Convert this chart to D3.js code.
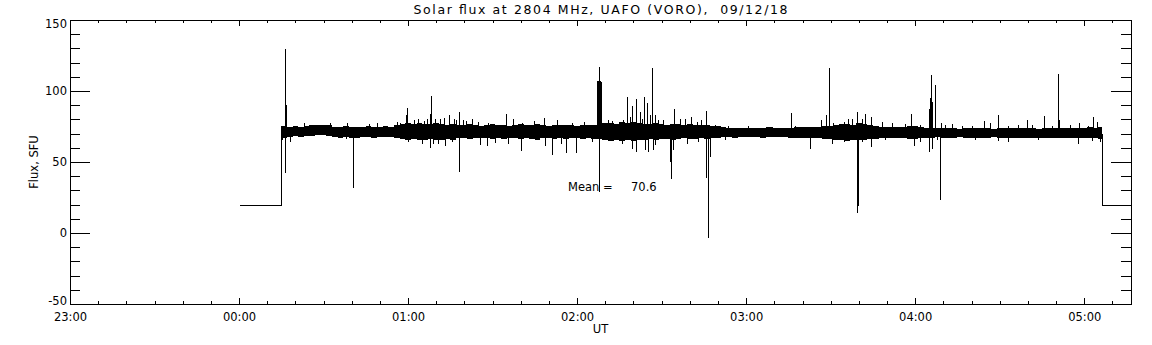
<!DOCTYPE html>
<html><head><meta charset="utf-8">
<script src="https://cdn.jsdelivr.net/npm/d3@7"></script>
<style>
body{margin:0;background:#fff}
svg text{font-family:"DejaVu Sans",sans-serif;fill:#000}
</style>
</head><body>
<svg id="c" width="1152" height="345"></svg>
<script>
// ---------- data (times in minutes after 00:00 UT) ----------
const titleText = "Solar flux at 2804 MHz, UAFO (VORO),  09/12/18";
const xTickMinutes = [-60, 0, 60, 120, 180, 240, 300];
const xTickLabels = ["23:00", "00:00", "01:00", "02:00", "03:00", "04:00", "05:00"];
const yTickValues = [-50, 0, 50, 100, 150];
const yTickLabels = ["-50", "0", "50", "100", "150"];
const xDomain = [-60, 316.6];
const yDomain = [-50, 150];

// receiver off (calibration level) before and after the observation
const offTime = [0, 15.0];
const offValue = [20, 20];
const tailTime = [306.4, 316.6];
const tailValue = [20, 20];

// noise band envelope, one sample every 2 minutes from 00:15
const bandStart = 15, bandStep = 2, bandEnd = 306.4;
const bandHi = [
  75.2, 74.8, 75.4, 75.0, 75.6, 76.0, 76.4, 76.2, 75.8, 75.0, 74.6, 75.2, 74.8,
  75.0, 74.6, 75.2, 75.0, 74.8, 75.4, 75.0, 76.2, 76.8, 77.2, 76.6, 77.4, 77.0, 76.8, 77.2,
  76.8, 76.2, 77.0, 76.4, 75.8, 76.6, 76.0, 75.6, 76.4, 76.8, 75.8, 76.2, 75.6, 76.0, 76.6,
  75.8, 76.2, 76.8, 76.0, 75.6, 76.2, 75.8, 76.4, 76.0, 75.6, 76.2, 75.8, 76.4, 76.6,
  77.4, 77.8, 77.0, 78.0, 77.6, 78.2, 77.4, 77.0, 76.6, 77.2, 76.8, 76.4, 77.0, 76.6, 76.2,
  76.8, 76.4, 76.0, 76.4, 75.6, 75.2,
  74.6, 74.2, 74.0, 73.8, 74.2, 73.6, 74.0, 73.8, 74.4, 74.0, 73.6, 74.2, 74.0, 74.4, 74.8,
  75.0, 74.6, 74.8, 75.2, 75.6, 76.2, 76.6, 77.0, 76.4, 77.2, 76.8, 76.2, 75.6, 75.0, 74.6,
  75.0, 74.4, 74.8,
  75.2, 75.6, 74.8, 74.2, 74.0, 73.6, 73.8, 74.2, 73.6, 73.4, 73.8, 74.0, 73.6, 74.2, 73.8,
  73.4, 73.6, 74.0, 73.8, 74.2, 73.6, 73.8, 74.0, 73.4, 73.8, 74.2, 73.6, 73.8, 74.0, 73.6,
  74.2, 73.8, 74.4, 74.0, 74.6
];
const bandLo = [
  67.0, 67.8, 68.0, 67.6, 68.2, 68.6, 69.0, 68.8, 68.4, 67.8, 67.2, 67.6, 67.0,
  66.8, 67.4, 67.6, 67.2, 67.6, 67.4, 67.8, 66.6, 66.0, 65.6, 66.2, 65.4, 65.8, 66.0, 65.6,
  65.6, 66.2, 65.8, 66.6, 67.0, 66.4, 66.8, 67.2, 66.6, 66.2, 66.8, 66.4, 67.0, 66.6, 66.0,
  66.8, 66.4, 65.8, 66.6, 67.0, 66.4, 66.8, 66.2, 66.6, 67.0, 66.4, 66.8, 66.2, 66.0,
  65.4, 65.0, 65.8, 64.8, 65.2, 64.6, 65.4, 65.8, 66.0, 65.6, 66.2, 66.4, 65.8, 66.2, 66.6,
  66.0, 66.4, 66.8, 66.4, 67.0, 67.2,
  67.4, 67.6, 67.2, 67.8, 67.4, 67.8, 67.6, 67.2, 67.6, 67.8, 67.4, 67.6, 67.2, 67.0, 66.8,
  66.8, 67.0, 66.6, 66.4, 66.2, 65.8, 65.4, 65.0, 65.6, 65.2, 65.6, 66.0, 66.4, 66.8, 67.0,
  66.6, 67.0, 66.8,
  66.4, 66.0, 66.8, 67.0, 67.2, 67.4, 67.0, 66.8, 67.2, 67.4, 67.0, 66.8, 67.2, 66.8, 67.0,
  67.4, 67.2, 66.8, 67.0, 66.6, 67.0, 67.2, 66.8, 67.2, 67.0, 66.6, 67.0, 67.2, 66.8, 67.0,
  66.6, 67.0, 66.8, 66.6, 66.4
];

// individual excursions out of the band (time in minutes, flux in SFU)
const spikeTime = [
  16.42, 16.77, 59.72, 59.25, 68.23, 67.88, 74.62, 78.17, 94.75, 108.34,
  126.9, 127.3, 127.6, 127.86, 128.2, 128.5,
  137.80, 139.57, 140.78, 142.20, 143.83, 144.90, 146.67, 147.63, 154.48, 165.63,
  196.01, 208.22, 209.50, 219.43, 222.27, 224.19, 238.60,
  244.88, 245.23, 245.46, 245.70, 246.05, 247.12, 269.48, 285.80, 290.77, 303.19,
  23.16, 32.28, 38.21, 46.23, 48.86, 55.95, 57.13, 62.20, 63.62, 65.64, 66.6, 69.55, 71.32, 72.6,
  76.40, 77.0, 79.59, 80.55, 82.79, 84.92, 88.47, 97.34, 100.53, 104.79, 112.74, 118.07, 122.54,
  130.84, 132.26, 136.38, 138.76, 142.9, 145.86, 148.80, 150.6, 156.61, 158.28, 160.41, 162.4,
  163.96, 168.9, 173.6, 180.75, 189.0, 197.3, 200.3, 206.71, 210.9, 213.3, 214.84, 216.26,
  217.68, 221.0, 228.09, 231.85, 236.4, 241.7, 249.0, 250.6, 252.9, 256.5, 260.0, 264.49,
  266.6, 273.0, 276.6, 279.8, 281.3, 288.4, 291.1, 294.9, 298.1, 301.4, 304.4,
  15.24, 16.42, 18.19, 40.55, 67.77, 73.10, 78.17, 100.18, 111.18, 115.94, 119.70, 127.86,
  140.78, 144.09, 145.26, 152.99, 153.20, 165.63, 166.55, 167.05, 202.75, 219.43, 219.79,
  224.40, 239.66, 244.88, 245.94, 248.87, 297.87,
  37.96, 60.07, 63.6, 64.83, 68.94, 70.51, 75.47, 85.52, 87.90, 90.8, 95.6, 108.59, 114.27,
  125.16, 129.89, 135.81, 139.4, 147.6, 147.0, 154.07, 158.89, 163.0, 172.48, 210.34, 214.8,
  221.0, 229.3, 241.7, 247.7, 261.21, 269.48, 273.03, 283.7, 302.6, 305.58
];
const spikeValue = [
  129.6, 90, 87.8, 83, 96.5, 83.8, 83.1, 85.4, 83.8, 81.2,
  106.8, 106.8, 104, 117.1, 106.8, 106,
  95.5, 89.4, 94.1, 85.4, 95.5, 91.8, 116, 83, 87.1, 86.1,
  84.3, 83, 116, 85, 83.8, 81.5, 83.8,
  87.1, 94.8, 100, 111.3, 92, 104.2, 83.1, 82.4, 112, 81.5,
  77.7, 77.7, 77.7, 76.8, 77.7, 78.4, 77.2, 79.6, 80.0, 78.9, 80.3, 80.3, 80.0, 81,
  80.3, 79.6, 79.6, 78.9, 80.0, 78.4, 77.2, 80.0, 77.7, 78.9, 79.6, 77.2, 78.4,
  79.6, 78.9, 79.6, 82, 80.3, 83, 79.6, 79.6, 80.3, 80.0, 81.5, 78.4,
  79.6, 76.1, 75.5, 75.5, 75, 75.2, 74.9, 79.6, 77.2, 76.1, 78.4, 80.0,
  80.3, 80.3, 78.4, 77.2, 76.8, 76.1, 77.2, 76.1, 76.8, 75.5, 75.4, 79.1,
  77.7, 75.4, 76.1, 79.6, 76.1, 75.4, 79.6, 76.1, 77.2, 75.4, 78.4,
  65.5, 42, 64.3, 31.9, 59.6, 61.3, 42.7, 58, 54.9, 56.1, 56.1, 28.6,
  57.3, 58.4, 57.3, 50.2, 37.8, 38.5, -3.3, 53.7, 59, 13.9, 19.2,
  60.8, 61.3, 57.3, 59, 23.2, 62.5,
  66.0, 64.3, 65.5, 63, 62.6, 62.6, 64.3, 62, 61.3, 63.5, 63, 61.3, 63,
  64.3, 65.5, 63, 59, 62, 58.5, 58.4, 63, 64.3, 65.5, 63, 64.3,
  64.3, 65.5, 64.3, 65.5, 65.5, 65.0, 64.3, 65.5, 65.0, 64.3
];
const meanValue = 70.6;

// ---------- drawing ----------
const W = 1152, H = 345;
const plot = {left: 70, right: 1131, top: 20, bottom: 304};
const svg = d3.select("#c");

const x = d3.scaleLinear().domain(xDomain).range([plot.left, plot.right]);
const y = d3.scaleLinear().domain(yDomain).range([plot.bottom, plot.top]);

svg.append("defs").append("clipPath").attr("id", "clip")
  .append("rect").attr("x", plot.left).attr("y", plot.top)
  .attr("width", plot.right - plot.left).attr("height", plot.bottom - plot.top);

const g = svg.append("g").attr("clip-path", "url(#clip)");

const nBand = Math.min(bandHi.length, bandLo.length);
const band = [];
for (let i = 0; i < nBand; i++) band.push({t: bandStart + bandStep * i, hi: bandHi[i], lo: bandLo[i]});
band.push({t: bandEnd, hi: bandHi[nBand - 1], lo: bandLo[nBand - 1]});

function bandMid(t) {
  let i = Math.floor((t - bandStart) / bandStep);
  i = Math.max(0, Math.min(nBand - 1, i));
  return (bandHi[i] + bandLo[i]) / 2;
}

const px = v => Math.round(v) + 0.5;

// off-level segments and their connecting steps
const line = d3.line().x(d => px(x(d[0]))).y(d => px(y(d[1])));
const headPts = offTime.map((t, i) => [t, offValue[i]]);
headPts.push([offTime[offTime.length - 1], bandMid(bandStart)]);
const tailPts = [[tailTime[0], bandMid(bandEnd)]].concat(tailTime.map((t, i) => [t, tailValue[i]]));
[headPts, tailPts].forEach(p => g.append("path").attr("d", line(p))
  .attr("fill", "none").attr("stroke", "#000").attr("stroke-width", 1)
  .attr("shape-rendering", "crispEdges"));

// noise band
const area = d3.area().curve(d3.curveStepAfter)
  .x(d => Math.round(x(d.t)))
  .y0(d => y(d.lo)).y1(d => y(d.hi));
g.append("path").attr("d", area(band)).attr("fill", "#000").attr("shape-rendering", "crispEdges");

// spikes
const nSp = Math.min(spikeTime.length, spikeValue.length);
const spikes = d3.range(nSp).map(i => ({t: spikeTime[i], v: spikeValue[i]}));
g.selectAll("line.sp").data(spikes).join("line").attr("class", "sp")
  .attr("x1", d => px(x(d.t))).attr("x2", d => px(x(d.t)))
  .attr("y1", d => y(bandMid(d.t))).attr("y2", d => y(d.v))
  .attr("stroke", "#000").attr("stroke-width", 1).attr("shape-rendering", "crispEdges");

// ---------- axes ----------
const minorX = d3.range(xDomain[0], xDomain[1], 10);
const minorY = d3.range(yDomain[0], yDomain[1] + 1, 10);
function style(sel) {
  sel.selectAll("path,line").attr("stroke", "#000").attr("shape-rendering", "crispEdges");
  sel.selectAll("text").attr("font-family", "DejaVu Sans, sans-serif").attr("font-size", 11.5).attr("fill", "#000");
}
// bottom
svg.append("g").attr("transform", `translate(0,${plot.bottom})`)
  .call(d3.axisBottom(x).tickValues(minorX).tickSize(-3).tickSizeOuter(0).tickFormat(""))
  .call(style);
svg.append("g").attr("transform", `translate(0,${plot.bottom})`)
  .call(d3.axisBottom(x).tickValues(xTickMinutes).tickSize(-6).tickSizeOuter(0)
    .tickPadding(8.5).tickFormat((d, i) => xTickLabels[i]))
  .call(style).call(s => s.select(".domain").remove());
// top
svg.append("g").attr("transform", `translate(0,${plot.top})`)
  .call(d3.axisTop(x).tickValues(minorX).tickSize(-3).tickSizeOuter(0).tickFormat(""))
  .call(style);
svg.append("g").attr("transform", `translate(0,${plot.top})`)
  .call(d3.axisTop(x).tickValues(xTickMinutes).tickSize(-6).tickSizeOuter(0).tickFormat(""))
  .call(style).call(s => s.select(".domain").remove());
// left
svg.append("g").attr("transform", `translate(${plot.left},0)`)
  .call(d3.axisLeft(y).tickValues(minorY).tickSize(-10).tickSizeOuter(0).tickFormat(""))
  .call(style);
const yl = svg.append("g").attr("transform", `translate(${plot.left},0)`)
  .call(d3.axisLeft(y).tickValues(yTickValues).tickSize(-20).tickSizeOuter(0)
    .tickPadding(3).tickFormat((d, i) => yTickLabels[i]))
  .call(style).call(s => s.select(".domain").remove());
yl.selectAll(".tick text").attr("dy", d => d === yDomain[1] ? "0.62em" : d === yDomain[0] ? "0.02em" : "0.34em");
// right
svg.append("g").attr("transform", `translate(${plot.right},0)`)
  .call(d3.axisRight(y).tickValues(minorY).tickSize(-10).tickSizeOuter(0).tickFormat(""))
  .call(style);
svg.append("g").attr("transform", `translate(${plot.right},0)`)
  .call(d3.axisRight(y).tickValues(yTickValues).tickSize(-20).tickSizeOuter(0).tickFormat(""))
  .call(style).call(s => s.select(".domain").remove());

// ---------- texts ----------
svg.append("text").attr("x", (plot.left + plot.right) / 2).attr("y", 13.5)
  .attr("text-anchor", "middle").attr("font-size", 12.5)
  .attr("textLength", 374).attr("lengthAdjust", "spacing")
  .style("white-space", "pre").text(titleText);

svg.append("text").attr("x", (plot.left + plot.right) / 2).attr("y", 333)
  .attr("text-anchor", "middle").attr("font-size", 11.5).text("UT");

svg.append("text").attr("transform", `translate(38,${(plot.top + plot.bottom) / 2}) rotate(-90)`)
  .attr("text-anchor", "middle").attr("font-size", 11.5).text("Flux, SFU");

const mt = svg.append("text").attr("y", 190.7).attr("font-size", 11.5);
mt.append("tspan").attr("x", 568).text("Mean");
mt.append("tspan").attr("x", 603).text("=");
mt.append("tspan").attr("x", 631).text(meanValue.toFixed(1));
</script>
</body></html>
